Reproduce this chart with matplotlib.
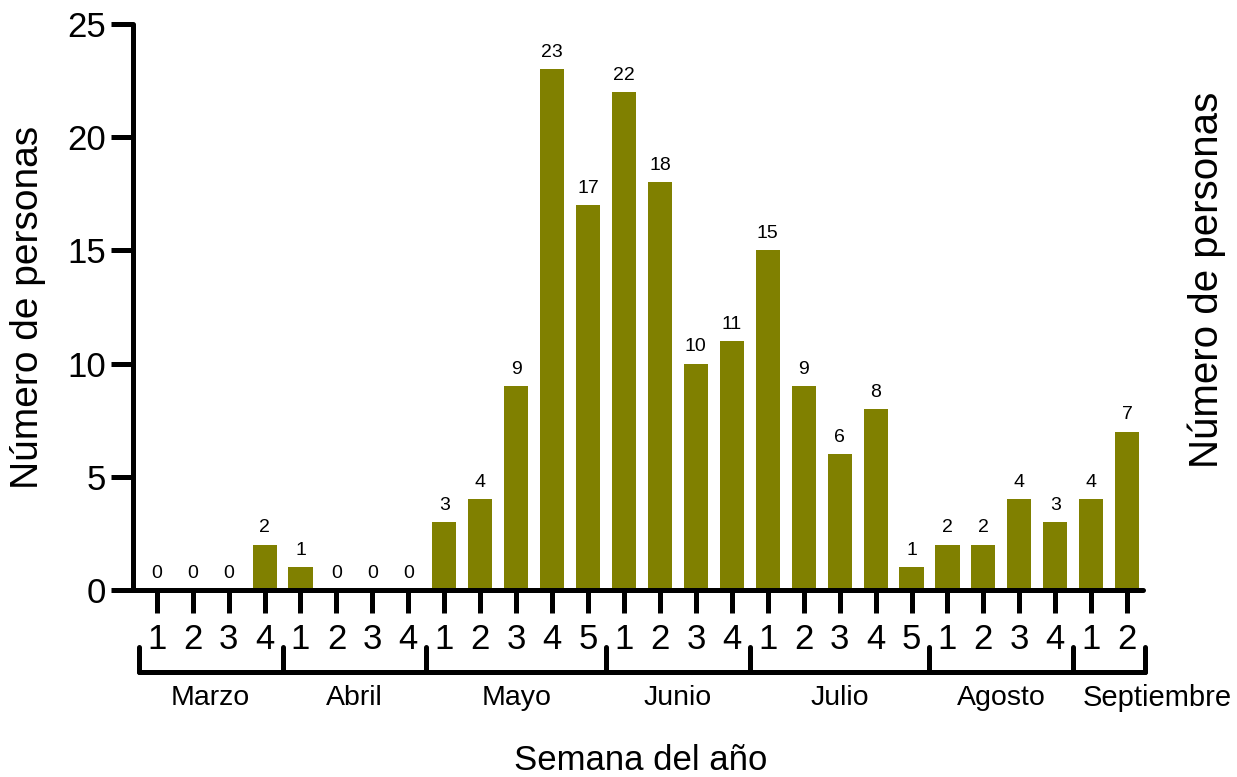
"""
Personas por semana del año (marzo - septiembre)
"""

import matplotlib

matplotlib.use("Agg")
import matplotlib.pyplot as plt
from matplotlib.transforms import blended_transform_factory

plt.rcParams["font.family"] = ["Liberation Sans", "DejaVu Sans"]

# datos
meses = ["Marzo", "Abril", "Mayo", "Junio", "Julio", "Agosto", "Septiembre"]
semanas_por_mes = [4, 4, 5, 4, 5, 4, 2]
personas = [0, 0, 0, 2, 1, 0, 0, 0, 3, 4, 9, 23, 17, 22, 18, 10, 11,
            15, 9, 6, 8, 1, 2, 2, 4, 3, 4, 7]

semanas = [str(s + 1) for n in semanas_por_mes for s in range(n)]
x = list(range(len(personas)))

color_barra = "#808000"
lw = 3.6

fig = plt.figure(figsize=(12.37, 7.77), dpi=100)
ax = fig.add_axes([133 / 1237, 1 - 590 / 777, (1143 - 133) / 1237, (590 - 24) / 777])

ax.bar(x, personas, width=0.67, color=color_barra, zorder=2)
for xi, v in zip(x, personas):
    ax.annotate(str(v), (xi, v), xytext=(0, 6), textcoords="offset points",
                ha="center", va="bottom", fontsize=14)

ax.set_xlim(-0.66, 27.44)
ax.set_ylim(0, 25)
ax.set_yticks(range(0, 26, 5))
ax.set_xticks(x, labels=semanas)

for lado in ("top", "right"):
    ax.spines[lado].set_visible(False)
for lado in ("left", "bottom"):
    ax.spines[lado].set_linewidth(lw)
    ax.spines[lado].set_capstyle("round")
    ax.spines[lado].set_zorder(3)

ax.tick_params(axis="y", length=16, width=lw, labelsize=25, pad=3.5)
ax.tick_params(axis="x", length=16.5, width=lw, labelsize=25, pad=7)

# corchetes de los meses
trans = blended_transform_factory(ax.transData, fig.transFigure)
y_linea = 1 - 672 / 777
y_tope = 1 - 647 / 777
y_mes = 1 - 698 / 777
limites = [-0.5]
for n in semanas_por_mes:
    limites.append(limites[-1] + n)

ax.plot([limites[0], limites[-1]], [y_linea, y_linea], color="black", lw=lw,
        transform=trans, clip_on=False, solid_capstyle="round")
for b in limites:
    ax.plot([b, b], [y_linea, y_tope], color="black", lw=lw,
            transform=trans, clip_on=False, solid_capstyle="round")

for i, mes in enumerate(meses):
    ini, fin = limites[i], limites[i + 1]
    if mes == "Septiembre":
        ax.text(ini + 0.25, y_mes, mes, transform=trans, ha="left", va="center",
                fontsize=21)
    else:
        ax.text((ini + fin) / 2, y_mes, mes, transform=trans, ha="center",
                va="center", fontsize=20.5)

fig.text(28 / 1237, 1 - 307 / 777, "Número de personas", rotation=90,
         ha="center", va="center", fontsize=28)
fig.text(1207 / 1237, 1 - 280 / 777, "Número de personas", rotation=90,
         ha="center", va="center", fontsize=29)
fig.text(641 / 1237, 1 - 760 / 777, "Semana del año", ha="center", va="center",
         fontsize=25)

fig.savefig("out.png", dpi=100)
